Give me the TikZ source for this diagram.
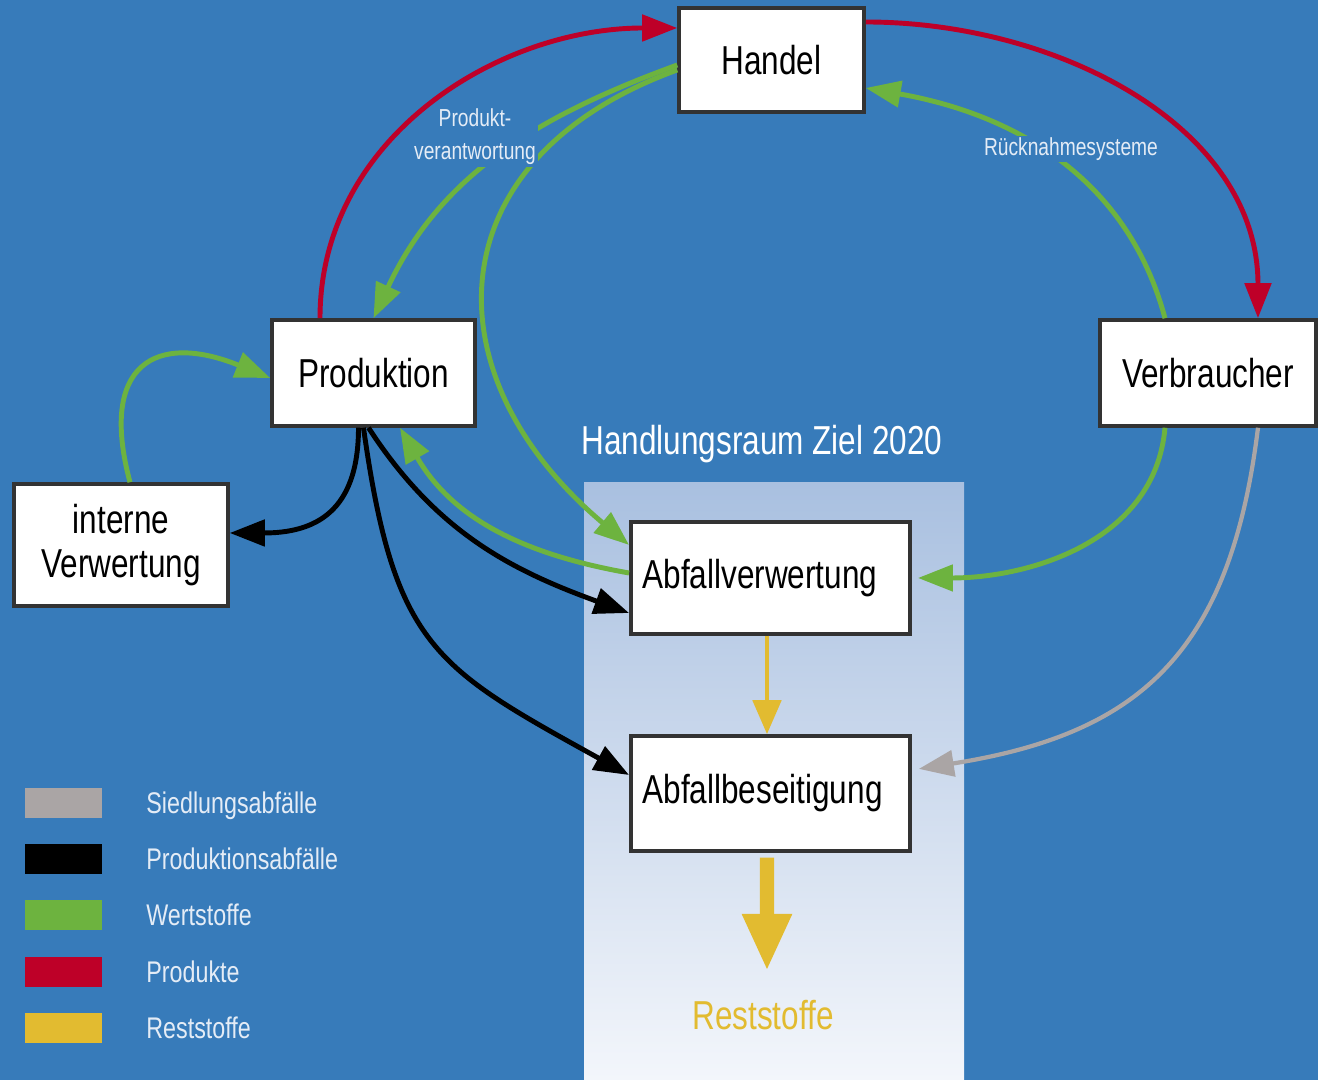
\documentclass[tikz,border=0pt]{standalone}
\usepackage{fontspec}
\setmainfont[FakeStretch=0.78]{Liberation Sans}
\usetikzlibrary{arrows.meta,positioning}
\definecolor{bg}{RGB}{55,123,186}
\definecolor{rot}{RGB}{190,0,40}
\definecolor{gruen}{RGB}{109,179,63}
\definecolor{grau}{RGB}{170,165,165}
\definecolor{gelb}{RGB}{226,187,48}
\definecolor{hell}{RGB}{228,236,246}
\definecolor{zoneoben}{RGB}{169,192,224}
\definecolor{zoneunten}{RGB}{243,246,251}

\begin{document}
\begin{tikzpicture}[
box/.style={draw=black!80, line width=1pt, fill=white, align=center, font=\fontsize{11.5}{12.5}\selectfont},
fl/.style={line width=1.4pt, -{Triangle[length=3.5mm,width=2.6mm]}},
lbl/.style={text=hell, fill=bg, inner sep=0.5pt, align=center, font=\fontsize{7}{9.4}\selectfont}]
\fill[bg] (0,0) rectangle (13.18,10.8);
\shade[top color=zoneoben, bottom color=zoneunten] (5.84,0) rectangle (9.64,5.97);
\node[box, minimum width=1.85cm, minimum height=1.04cm] (H) at (7.715,10.20) {Handel};
\node[box, minimum width=2.03cm, minimum height=1.06cm] (P) at (3.735,7.07) {Produktion};
\node[box, minimum width=2.16cm, minimum height=1.06cm] (V) at (12.08,7.07) {Verbraucher};
\node[box, minimum width=2.14cm, minimum height=1.22cm] (IV) at (1.21,5.35) {interne\\Verwertung};
\node[box, text width=2.56cm, align=left, minimum height=1.12cm] (AV) at (7.705,5.02) {Abfallverwertung};
\node[box, text width=2.56cm, align=left, minimum height=1.15cm] (AB) at (7.705,2.865) {Abfallbeseitigung};
\node[text=white, font=\fontsize{11.5}{13}\selectfont] (T) at (7.62,6.36) {Handlungsraum Ziel 2020};
\node[text=gelb, font=\fontsize{11.5}{13}\selectfont] (R) at (7.63,0.65) {Reststoffe};
% Wertstoffe
\draw[fl, gruen] ([yshift=-0.5mm]H.west) to[out=200,in=65] (P.north);
\draw[fl, gruen] ([yshift=-1mm]H.west) to[out=200,in=140,looseness=1.4] ([yshift=3.3mm]AV.west);
\draw[fl, gruen] ([xshift=-4.3mm]V.north) to[out=105,in=350] ([yshift=-2.8mm]H.east);
\draw[fl, gruen, shorten >=0.6mm] ([xshift=-4.3mm]V.south) to[out=265,in=0] (AV.east);
\draw[fl, gruen] ([yshift=0.5mm]AV.west) to[out=170,in=300] ([xshift=2.65mm]P.south);
\draw[fl, gruen] ([xshift=0.9mm]IV.north) to[out=105,in=158,looseness=1.8] ([yshift=-0.5mm]P.west);
\node[lbl] (pv) at (4.75,9.43) {Produkt-\\verantwortung};
\node[lbl] (rn) at (10.71,9.31) {Rücknahmesysteme};
% Produkte
\draw[fl, rot] ([xshift=-5.35mm]P.north) to[out=90,in=180] ([yshift=3.2mm]H.west);
\draw[fl, rot] ([yshift=3.8mm]H.east) to[out=0,in=90] ([xshift=5mm]V.north);
% Produktionsabfaelle
\draw[fl] ([xshift=-1.5mm]P.south) to[out=270,in=0,looseness=1.3] ([yshift=1.2mm]IV.east);
\draw[fl] ([xshift=-0.5mm]P.south) to[out=303,in=160] ([yshift=-3.5mm]AV.west);
\draw[fl] ([xshift=-1mm]P.south) to[out=278,in=151,looseness=1.3] ([yshift=1.85mm]AB.west);
% Siedlungsabfaelle
\draw[fl, grau, line width=1.2pt, shorten >=0.7mm] ([xshift=5mm]V.south) to[out=263,in=9,looseness=1.2] ([yshift=2.35mm]AB.east);
% Reststoffe
\coordinate (RE) at (7.67,1.09);
\draw[gelb, line width=1.4pt, -{Triangle[length=3.4mm,width=2.8mm]}] ([xshift=-0.35mm]AV.south) -- ([xshift=-0.35mm]AB.north);
\draw[gelb, line width=4pt, -{Triangle[length=5.7mm,width=4.6mm]}] ([xshift=-0.35mm,yshift=-0.5mm]AB.south) -- (RE);
% Legende
\foreach \c/\t [count=\i] in {grau/Siedlungsabfälle, black/Produktionsabfälle, gruen/Wertstoffe, rot/Produkte, gelb/Reststoffe}{
  \fill[\c] (0.25,{2.77-0.5625*(\i-1)-0.15}) rectangle (1.02,{2.77-0.5625*(\i-1)+0.15});
  \node[anchor=base west, text=hell, font=\fontsize{8.5}{10}\selectfont] (L\i) at (1.34,{2.77-0.5625*(\i-1)-0.105}) {\t};
}
\end{tikzpicture}
\end{document}
